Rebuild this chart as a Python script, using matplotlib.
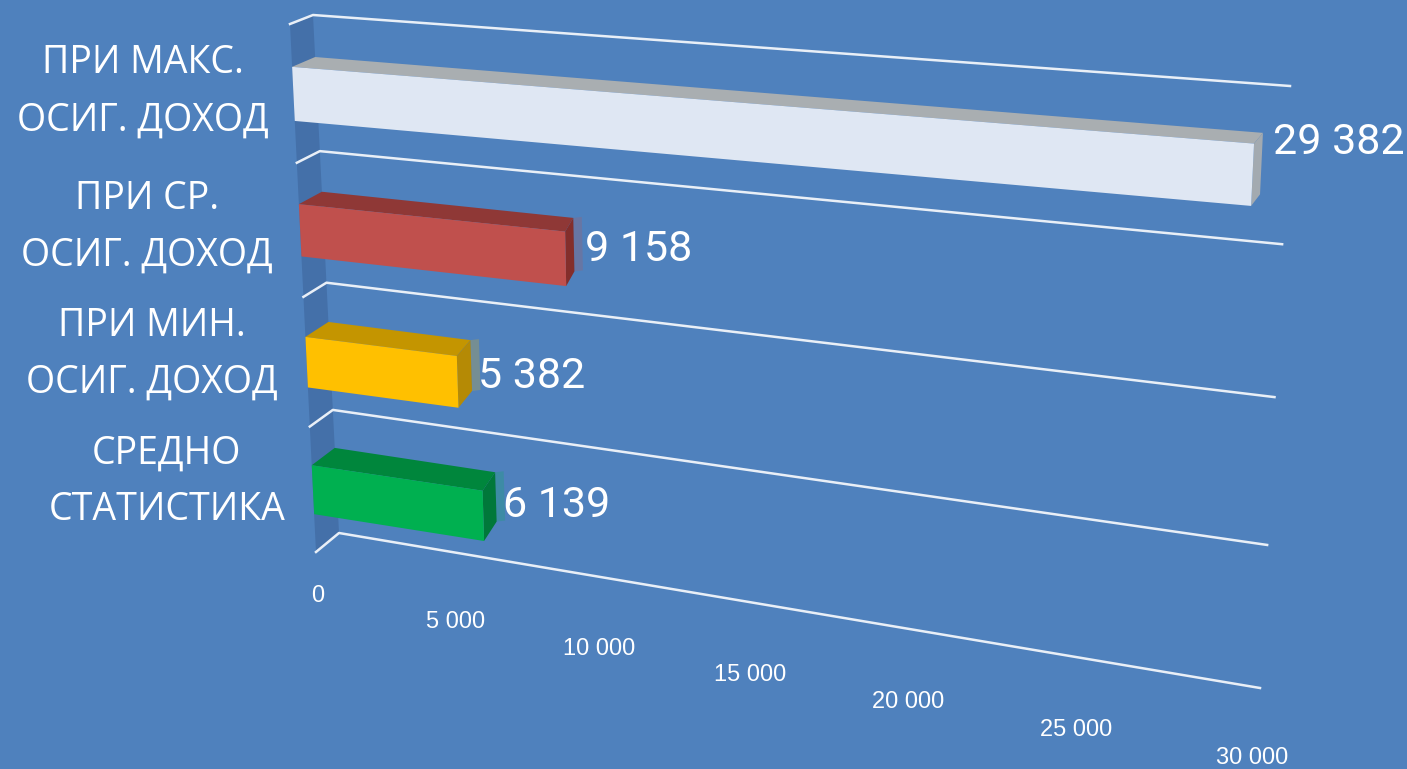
import matplotlib
matplotlib.use("Agg")
import matplotlib.pyplot as plt
import matplotlib.transforms as mtransforms
from matplotlib.patches import Polygon
import numpy as np

# top to bottom, as in the picture
categories = ["ПРИ МАКС.\nОСИГ. ДОХОД", "ПРИ СР.\nОСИГ. ДОХОД", "ПРИ МИН.\nОСИГ. ДОХОД", "СРЕДНО\nСТАТИСТИКА"]
values = [29382, 9158, 5382, 6139]
value_labels = ["29 382", "9 158", "5 382", "6 139"]
ticks = [0, 5000, 10000, 15000, 20000, 25000, 30000]
tick_labels = ["0", "5 000", "10 000", "15 000", "20 000", "25 000", "30 000"]

front_colors = ["#dfe7f3", "#c0504d", "#ffc000", "#00b050"]
top_colors = ["#a9aeb1", "#8f3836", "#c49500", "#00863c"]
side_colors = ["#a3aab0", "#842e2b", "#b58a05", "#00783a"]
bg_color = "#4f81bd"
wall_color = "#4470a9"
grid_color = "#e9eff7"

WIDTH, HEIGHT = 1407, 769
VMAX = 30000
SLOTS = len(categories)


class PlaneProjection(mtransforms.Transform):
    """Maps (value, slot) to display pixels on one tilted plane of the fake 3d box."""
    input_dims = 2
    output_dims = 2
    is_separable = False
    has_inverse = False

    def __init__(self, tl, tr, bl, br, ru, rv=0.935):
        super().__init__()
        self.tl, self.tr = np.array(tl, float), np.array(tr, float)
        self.bl, self.br = np.array(bl, float), np.array(br, float)
        self.ru, self.rv = ru, rv

    def transform_non_affine(self, values):
        values = np.asarray(values, float)
        u = values[:, 0] / VMAX
        v = values[:, 1] / SLOTS
        f = (self.ru * u / (1 - u + self.ru * u))[:, None]
        g = (self.rv * v / (1 - v + self.rv * v))[:, None]
        left = self.bl + (self.tl - self.bl) * g
        right = self.br + (self.tr - self.br) * g
        out = left + (right - left) * f
        out[:, 1] = HEIGHT - out[:, 1]
        return out


front = PlaneProjection((290, 24), (1280, 96), (316, 552), (1250, 706), 0.86)
back = PlaneProjection((313, 15), (1290, 86), (339, 533), (1260, 688), 0.81)
back_shadow = back + mtransforms.Affine2D().translate(8.5, 1)


def depth_face(pts, plane_a=front, plane_b=back):
    pts = np.array(pts, float)
    return np.vstack([plane_a.transform(pts), plane_b.transform(pts[::-1])])


fig = plt.figure(figsize=(WIDTH / 100, HEIGHT / 100), dpi=100, facecolor=bg_color)
ax = fig.add_axes([0, 0, 1, 1])
ax.set_xlim(0, VMAX)
ax.set_ylim(0, SLOTS)
ax.axis("off")
screen = mtransforms.IdentityTransform()

# side wall
ax.add_patch(Polygon(depth_face([(0, 0), (0, SLOTS)]), transform=screen, fc=wall_color, ec="none", zorder=1))

# gridlines: short piece along the wall, then along the back plane
for s in range(SLOTS + 1):
    pts = np.vstack([front.transform([(0, s)]), back.transform([(0, s), (VMAX, s)])])
    ax.plot(pts[:, 0], pts[:, 1], color=grid_color, lw=1.8, transform=screen, zorder=2)

bar_h = 0.39
for i, val in enumerate(values):
    slot = SLOTS - 1 - i + 0.5
    lo, hi = slot - bar_h / 2, slot + bar_h / 2
    if i > 0:
        shadow = np.vstack([back.transform([(val, hi), (val, lo)]), back_shadow.transform([(val, lo), (val, hi)])])
        ax.add_patch(Polygon(shadow, transform=screen, fc=front_colors[i], alpha=0.22, ec="none", zorder=3))
    ax.add_patch(Polygon(depth_face([(0, hi), (val, hi)]), transform=screen, fc=top_colors[i], ec="none", zorder=4))
    ax.add_patch(Polygon(depth_face([(val, hi), (val, lo)]), transform=screen, fc=side_colors[i], ec="none", zorder=4))
    ax.barh(slot, val, height=bar_h, color=front_colors[i], transform=front, zorder=5)

# category labels, value labels
cat_shift = [(-151, 2), (-153, 3), (-155, 8), (-146, 8)]
val_shift = [(20, 32), (19, 9), (20, 5), (20, 10)]
for i, val in enumerate(values):
    slot = SLOTS - 1 - i + 0.5
    ax.annotate(categories[i], xy=(0, slot), xycoords=front, xytext=cat_shift[i], textcoords="offset pixels",
                ha="center", va="center", ma="center", fontsize=27, linespacing=1.66,
                family="Open Sans", color="white", zorder=6)
    ax.annotate(value_labels[i], xy=(val, slot), xycoords=front, xytext=val_shift[i], textcoords="offset pixels",
                ha="left", va="center", fontsize=31, family="Roboto", color="white", zorder=6)

tick_dy = [-44, -47, -51, -52, -53, -53, -52]
for t, lab, dy in zip(ticks, tick_labels, tick_dy):
    ax.annotate(lab, xy=(t, 0), xycoords=front, xytext=(2, dy), textcoords="offset pixels",
                ha="center", va="center", fontsize=17, family="Liberation Sans", color="white", zorder=6)

fig.savefig("out.png", dpi=100, facecolor=bg_color)
